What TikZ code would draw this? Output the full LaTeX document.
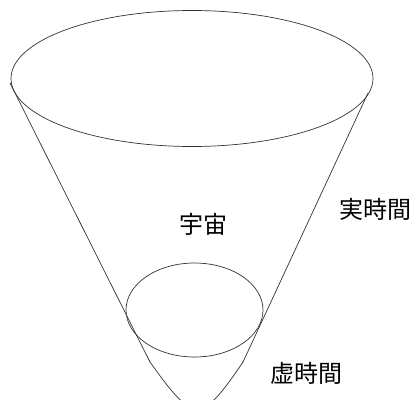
\documentclass[tikz,border=0pt]{standalone}
\usepackage{fontspec}
\newfontfamily\jp{Noto Sans CJK JP}
\begin{document}
\begin{tikzpicture}[x=1pt, y=-1pt,
                    line width=0.7pt, draw=black!80,
                    every node/.style={font=\jp\fontsize{24}{26}\selectfont, inner sep=0pt}
                    ]
                    \useasboundingbox (0,0) rectangle (414,399);

                    % rims of the cone
                    \draw (192,78.5) ellipse [x radius=181pt, y radius=68pt];
                    \draw (194.5,310) ellipse [x radius=68.5pt, y radius=47pt];

                    \coordinate (tl) at (10,83);
                    \coordinate (tr) at (368,93);
                    \coordinate (bl) at (150,362);
                    \coordinate (br) at (243,362);

                    \foreach \i/\j in {tl/bl,tr/br}{
                        \draw (\i) -- (\j);
                    }
                    \draw (bl) .. controls (194,424) and (201,424) .. (br);

                    \node (u) at (203,224) {宇宙};
                    \node (r) at (375,209) {実時間};
                    \node (v) at (306,373) {虚時間};
                \end{tikzpicture}
\end{document}
